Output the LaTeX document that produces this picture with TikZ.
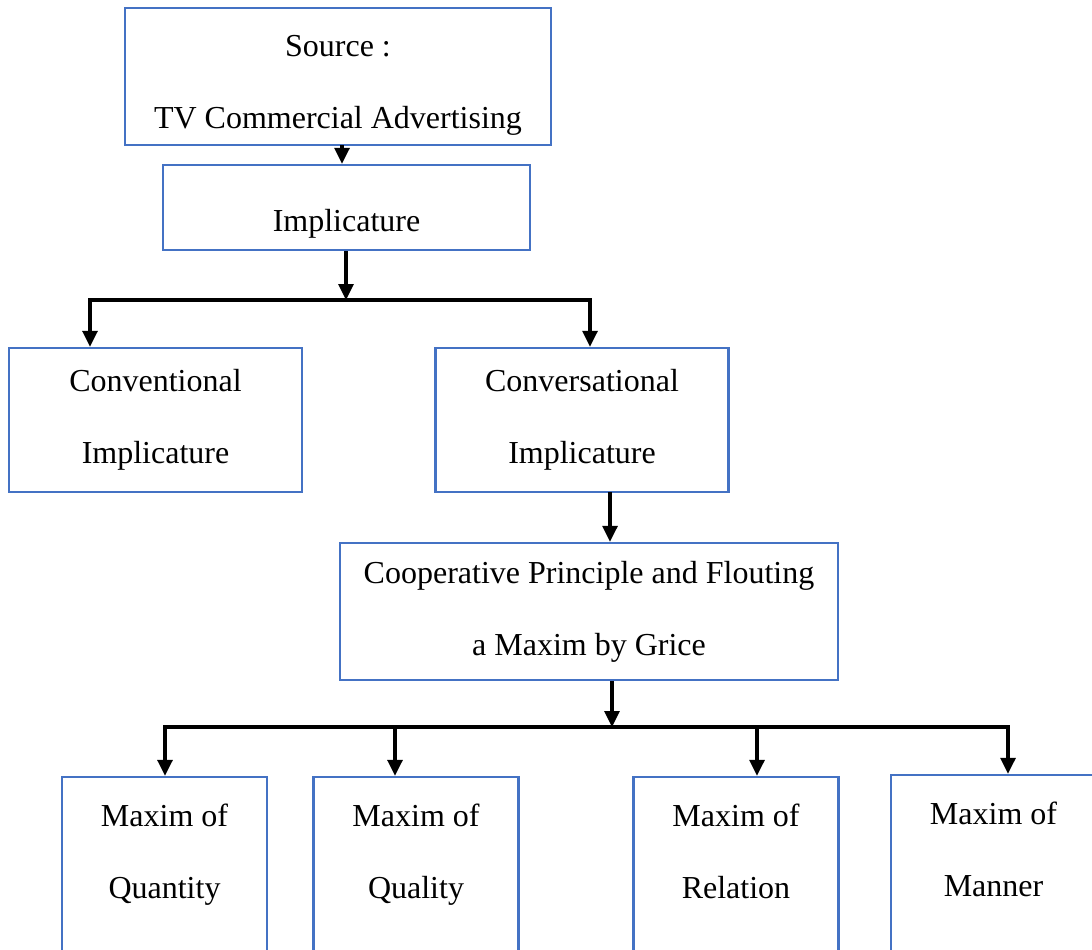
\documentclass[tikz,border=0pt]{standalone}
\usepackage{fontspec}
\setmainfont{Liberation Serif}
\usetikzlibrary{arrows.meta}
\definecolor{boxblue}{RGB}{68,114,196}

\begin{document}
\begin{tikzpicture}[x=0.5pt,y=-0.5pt]

        \tikzset{mybox/.style={rectangle,draw=boxblue,line width=1.2pt,align=center,inner sep=0pt,font=\fontsize{16}{36}\selectfont}}
        \tikzset{myarrow/.style={-{Triangle[length=8pt,width=7.5pt]},line width=1.6pt}}
        \tikzset{mybar/.style={line width=1.6pt,line cap=rect}}

        \useasboundingbox (0,0) rectangle (1092,949);

        % Draw boxes
        \node (src) at (338,76.5) [mybox,minimum width=213pt,minimum height=68.5pt,text height=55pt] {Source :\\TV Commercial Advertising};
        \node (impl) at (346.5,207.5) [mybox,minimum width=183.5pt,minimum height=42.5pt,text height=27pt] {Implicature};
        \node (conv-1) at (155.5,420) [mybox,minimum width=146.5pt,minimum height=72pt] {Conventional\\Implicature};
        \node (conv-2) at (582,420) [mybox,minimum width=146.5pt,minimum height=72pt] {Conversational\\Implicature};
        \node (coop) at (589,611.5) [mybox,minimum width=249pt,minimum height=68.5pt] {Cooperative Principle and Flouting\\a Maxim by Grice};
        \foreach \x/\y/\name [count=\i] in {164.5/887/Quantity, 416/887/Quality, 736/887/Relation, 993.5/885/Manner} {
            \node (maxim-\i) at (\x,\y) [mybox,minimum width=102.5pt,minimum height=110pt] {Maxim of\\\name\\\mbox{}};
        }

        % Draw arrows
        \coordinate (link-1) at (342,145);
        \draw[myarrow] (link-1) -- (link-1 |- impl.north);

        \coordinate (split-1) at (346,300);
        \draw[myarrow] (split-1 |- impl.south) -- (split-1);
        \coordinate (branch-1) at (90,300);
        \coordinate (branch-2) at (590,300);
        \draw[mybar] (branch-1) -- (branch-2);
        \draw[myarrow] (branch-1) -- (branch-1 |- conv-1.north);
        \draw[myarrow] (branch-2) -- (branch-2 |- conv-2.north);

        \coordinate (link-2) at (610,492);
        \draw[myarrow] (link-2) -- (link-2 |- coop.north);

        \coordinate (split-2) at (612,727);
        \draw[myarrow] (split-2 |- coop.south) -- (split-2);
        \foreach \x [count=\i] in {165,395,757,1008} {
            \coordinate (fork-\i) at (\x,727);
            \draw[myarrow] (fork-\i) -- (fork-\i |- maxim-\i.north);
        }
        \draw[mybar] (fork-1) -- (fork-4);

\end{tikzpicture}
\end{document}
